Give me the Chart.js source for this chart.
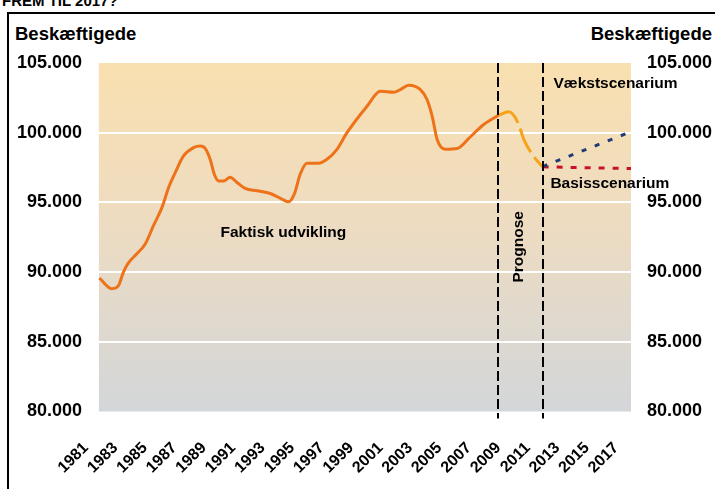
<!DOCTYPE html>
<html lang="da">
<head>
<meta charset="utf-8">
<title>Beskæftigede frem til 2017</title>
<script src="https://cdn.jsdelivr.net/npm/chart.js@4"></script>
<style>
  html, body { margin: 0; padding: 0; background: #fff; }
  body { width: 715px; height: 489px; position: relative; overflow: hidden; font-family: "Liberation Sans", Arial, sans-serif; }
  .frame { position: absolute; left: 7px; top: 12px; width: 720px; height: 490px; border-left: 2px solid #000; border-top: 2px solid #000; }
  .heading { position: absolute; left: 2px; top: -7px; font-weight: bold; font-size: 15px; line-height: 15px; }
  .axis-title { position: absolute; top: 24px; font-weight: bold; font-size: 18.5px; line-height: 20px; }
  #chart { position: absolute; left: 0; top: 0; }
</style>
</head>
<body>
<div class="heading">FREM TIL 2017?</div>
<div class="frame"></div>
<div class="axis-title" style="left: 15px;">Beskæftigede</div>
<div class="axis-title" style="right: 3px;">Beskæftigede</div>
<canvas id="chart" width="715" height="489"></canvas>
<script>
(function () {
    // Årstal på x-aksen
    const tickYears = [1981, 1983, 1985, 1987, 1989, 1991, 1993, 1995, 1997, 1999,
        2001, 2003, 2005, 2007, 2009, 2011, 2013, 2015, 2017];

    // Faktisk udvikling (aflæst af figuren)
    const actualYears = [1981.91, 1982.76, 1983.21, 1983.54, 1983.88, 1984.45, 1985.02, 1985.58,
        1986.16, 1986.61, 1987.06, 1987.62, 1988.30, 1988.76, 1989.10, 1989.43, 1989.71,
        1990.00, 1990.34, 1990.79, 1991.25, 1991.81, 1992.61, 1993.51, 1994.30, 1994.75,
        1995.14, 1995.54, 1996.00, 1996.79, 1997.36, 1998.04, 1998.72, 2000.08, 2000.98,
        2001.89, 2002.34, 2002.90, 2003.70, 2004.15, 2004.50, 2004.84, 2005.40, 2006.19,
        2007.10, 2008.00, 2009.00];
    const actualValues = [89570, 88810, 89040, 90000, 90660, 91310, 92020, 93330,
        94640, 96070, 97140, 98330, 98930, 99040, 98860, 98090, 97020,
        96540, 96540, 96810, 96430, 96000, 95830, 95640, 95240, 95040,
        95590, 97020, 97810, 97810, 98090, 98810, 100000, 101900, 102970,
        102900, 103090, 103400, 103090, 102380, 101190, 99520, 98810, 98860,
        99710, 100590, 101250];

    // Prognose
    const prognoseYears = [2009.00, 2009.70, 2010.15, 2010.49, 2010.72, 2011.51, 2012.00];
    const prognoseValues = [101250, 101500, 101070, 100240, 99520, 98140, 97550];

    // Scenarier
    const scenarioYears = [2012, 2018];
    const vaekstValues = [97570, 100070];
    const basisValues = [97550, 97430];

    const plotStartYear = 1981.875;
    const prognoseBounds = [2009, 2012];

    const notes = [
        { text: 'Faktisk udvikling', x: 1994.4, y: 92810, align: 'center', rotate: false },
        { text: 'Prognose', x: 2010.36, y: 91810, align: 'center', rotate: true },
        { text: 'Vækstscenarium', x: 2012.74, y: 103520, align: 'left', rotate: false },
        { text: 'Basisscenarium', x: 2012.53, y: 96310, align: 'left', rotate: false },
    ];

    const fontFamily = '"Liberation Sans", Arial, sans-serif';

    function toPoints(xs, ys) {
        return xs.map((x, i) => ({ x: x, y: ys[i] }));
    }

    function formatThousands(v) {
        return String(v).replace(/\B(?=(\d{3})+(?!\d))/g, '.');
    }

    const plotBackground = {
        id: 'plotBackground',
        beforeDraw(chart) {
            const { ctx, chartArea, scales } = chart;
            const left = scales.x.getPixelForValue(plotStartYear);
            const g = ctx.createLinearGradient(0, chartArea.top, 0, chartArea.bottom);
            g.addColorStop(0, '#F9E0B0');
            g.addColorStop(0.45, '#EEDCC1');
            g.addColorStop(1, '#D3D6D9');
            ctx.save();
            ctx.fillStyle = g;
            ctx.fillRect(left, chartArea.top, chartArea.right - left, chartArea.bottom - chartArea.top);
            ctx.restore();
        },
    };

    const markers = {
        id: 'markers',
        afterDatasetsDraw(chart) {
            const { ctx, chartArea, scales } = chart;
            ctx.save();
            ctx.strokeStyle = '#000';
            ctx.lineWidth = 2;
            ctx.setLineDash([10, 4]);
            prognoseBounds.forEach((year) => {
                const px = Math.round(scales.x.getPixelForValue(year));
                ctx.beginPath();
                ctx.moveTo(px, chartArea.top);
                ctx.lineTo(px, chartArea.bottom + 7);
                ctx.stroke();
            });
            ctx.setLineDash([]);
            ctx.fillStyle = '#000';
            ctx.font = 'bold 15.5px ' + fontFamily;
            ctx.textBaseline = 'middle';
            notes.forEach((n) => {
                const px = scales.x.getPixelForValue(n.x);
                const py = scales.y.getPixelForValue(n.y);
                ctx.save();
                ctx.translate(px, py);
                if (n.rotate) {
                    ctx.rotate(-Math.PI / 2);
                }
                ctx.textAlign = n.align;
                ctx.fillText(n.text, 0, 0);
                ctx.restore();
            });
            ctx.restore();
        },
    };

    Chart.defaults.font.family = fontFamily;
    Chart.defaults.font.weight = 'bold';
    Chart.defaults.color = '#000';

    try {
        new Chart(document.getElementById('chart'), {
            type: 'line',
            data: {
                datasets: [{
                    label: 'Faktisk udvikling',
                    data: toPoints(actualYears, actualValues),
                    borderColor: '#EE7219',
                    borderWidth: 3,
                    cubicInterpolationMode: 'monotone',
                    pointRadius: 0,
                }, {
                    label: 'Prognose',
                    data: toPoints(prognoseYears, prognoseValues),
                    borderColor: '#F6A31A',
                    borderWidth: 3,
                    borderDash: [26, 6],
                    cubicInterpolationMode: 'monotone',
                    pointRadius: 0,
                }, {
                    label: 'Vækstscenarium',
                    data: toPoints(scenarioYears, vaekstValues),
                    borderColor: '#1F3B73',
                    borderWidth: 3,
                    borderDash: [5, 9],
                    pointRadius: 0,
                }, {
                    label: 'Basisscenarium',
                    data: toPoints(scenarioYears, basisValues),
                    borderColor: '#C8102E',
                    borderWidth: 3,
                    borderDash: [6, 8],
                    pointRadius: 0,
                }],
            },
            options: {
                responsive: false,
                animation: false,
                devicePixelRatio: 1,
                layout: { padding: { top: 63, left: 0, right: 0, bottom: 0 } },
                plugins: {
                    legend: { display: false },
                    tooltip: { enabled: false },
                },
                scales: {
                    x: {
                        type: 'linear',
                        min: 1981,
                        max: 2018,
                        grid: { display: false, drawTicks: false },
                        border: { display: false },
                        afterBuildTicks: (scale) => {
                            scale.ticks = tickYears.map((v) => ({ value: v }));
                        },
                        afterFit: (scale) => { scale.height = 77.5; },
                        ticks: {
                            autoSkip: false,
                            minRotation: 45,
                            maxRotation: 45,
                            padding: 27,
                            font: { size: 16, weight: 'bold' },
                            callback: (v) => String(v),
                        },
                    },
                    y: {
                        position: 'left',
                        min: 80000,
                        max: 105000,
                        grid: {
                            color: (c) => (c.tick && (c.tick.value === 80000 || c.tick.value === 105000)) ? 'rgba(0,0,0,0)' : '#FFFFFF',
                            lineWidth: 2,
                            drawTicks: false,
                        },
                        border: { display: false },
                        afterFit: (scale) => { scale.width = 86; },
                        ticks: {
                            stepSize: 5000,
                            padding: 4,
                            font: { size: 18, weight: 'bold' },
                            callback: (v) => formatThousands(v),
                        },
                    },
                    y2: {
                        position: 'right',
                        display: true,
                        min: 80000,
                        max: 105000,
                        grid: { display: false, drawTicks: false },
                        border: { display: false },
                        afterFit: (scale) => { scale.width = 84; },
                        ticks: {
                            stepSize: 5000,
                            padding: 16,
                            font: { size: 18, weight: 'bold' },
                            callback: (v) => formatThousands(v),
                        },
                    },
                },
            },
            plugins: [plotBackground, markers],
        });
    } catch (error) {
        console.error('Fejl i figuren:', error);
    }
})();
</script>
</body>
</html>
